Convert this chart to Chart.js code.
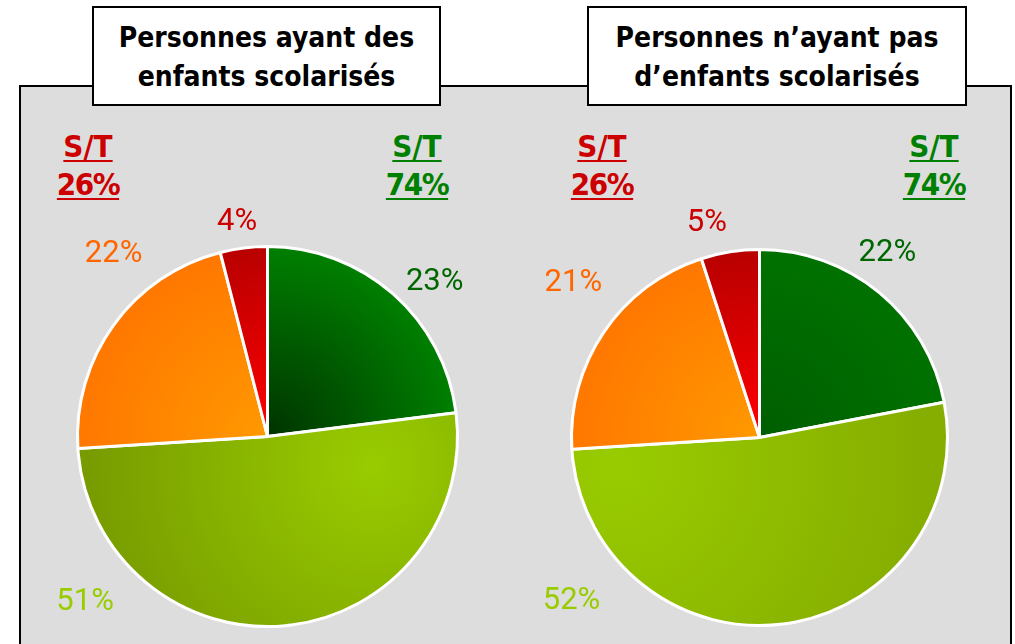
<!DOCTYPE html>
<html><head><meta charset="utf-8">
<script src="https://cdn.jsdelivr.net/npm/chart.js@4/dist/chart.umd.min.js"></script>
<style>
html,body{margin:0;padding:0;background:#fff;width:1015px;height:644px;overflow:hidden;position:relative;font-family:"DejaVu Sans Condensed","DejaVu Sans",sans-serif;}
#panel{position:absolute;left:19px;top:85px;width:989px;height:600px;background:#dddddd;border:2px solid #000;}
.title{position:absolute;top:6px;height:86px;background:#fff;border:2px solid #000;font-weight:bold;font-size:28px;line-height:39px;text-align:center;color:#000;box-sizing:content-box;padding-top:10px}
.st{position:absolute;font-weight:bold;font-size:31px;line-height:38px;text-align:center;text-decoration:underline;text-decoration-thickness:2px;text-underline-offset:3px;width:120px}
.st span{letter-spacing:-1.5px}
canvas{position:absolute}
</style></head>
<body>
<div id="panel"></div>
<div class="title" id="t1" style="left:92px;width:345px"></div>
<div class="title" id="t2" style="left:587px;width:376px"></div>
<div class="st" id="s1" style="left:28px;top:127px;color:#cc0000"></div>
<div class="st" id="s2" style="left:357px;top:127px;color:#008000"></div>
<div class="st" id="s3" style="left:542px;top:127px;color:#cc0000"></div>
<div class="st" id="s4" style="left:874px;top:127px;color:#008000"></div>
<div style="position:absolute;left:30px;top:200px;width:470px;height:444px"><canvas id="c1" width="470" height="444"></canvas></div>
<div style="position:absolute;left:520px;top:200px;width:470px;height:444px"><canvas id="c2" width="470" height="444"></canvas></div>
<script>
// ---- data ----
const titles = ["Personnes ayant des\nenfants scolarisés", "Personnes n\u2019ayant pas\nd\u2019enfants scolarisés"];
const categories = ["Très satisfait", "Assez satisfait", "Peu satisfait", "Pas du tout satisfait"];
const valuesWithChildren = [23, 51, 22, 4];
const valuesWithoutChildren = [22, 52, 21, 5];
const subtotalUnsatisfied = [26, 26];
const subtotalSatisfied = [74, 74];

// ---- styles ----
const labelColors = ["#006600", "#99cc00", "#ff6600", "#cc0000"];
const sliceInner = [["#003300", "#99cc00", "#ff9900", "#ff0000"], ["#005e00", "#99cc00", "#ff9900", "#ff0000"]];
const sliceOuter = [["#008000", "#759800", "#ff7700", "#b80000"], ["#007200", "#86ae00", "#ff7700", "#b80000"]];
const greenFocus = [[0.55, 0.15], [-0.75, 0.15]];
// label placement relative to pie centre, in radius units
const labelOffsets = [
  [[0.88, -0.81], [-0.96, 0.87], [-0.81, -0.96], [-0.16, -1.13]],
  [[0.68, -0.98], [-1.0, 0.87], [-0.99, -0.82], [-0.28, -1.14]]
];

document.getElementById('t1').innerHTML = titles[0].replace('\n', '<br>');
document.getElementById('t2').innerHTML = titles[1].replace('\n', '<br>');
document.getElementById('s1').innerHTML = 'S/T<br><span>' + subtotalUnsatisfied[0] + '%</span>';
document.getElementById('s2').innerHTML = 'S/T<br><span>' + subtotalSatisfied[0] + '%</span>';
document.getElementById('s3').innerHTML = 'S/T<br><span>' + subtotalUnsatisfied[1] + '%</span>';
document.getElementById('s4').innerHTML = 'S/T<br><span>' + subtotalSatisfied[1] + '%</span>';

function makeBg(chartIdx) {
  return function (ctx) {
    const chart = ctx.chart;
    const ca = chart.chartArea;
    const i = ctx.dataIndex;
    if (!ca) return sliceOuter[chartIdx][i];
    const cx = (ca.left + ca.right) / 2, cy = (ca.top + ca.bottom) / 2;
    const r = Math.min(ca.right - ca.left, ca.bottom - ca.top) / 2;
    let g;
    if (i === 1) {
      const f = greenFocus[chartIdx];
      const fx = cx + f[0] * r, fy = cy + f[1] * r;
      g = chart.ctx.createRadialGradient(fx, fy, 0, fx, fy, r * 1.6);
    } else {
      g = chart.ctx.createRadialGradient(cx, cy, 0, cx, cy, r);
    }
    g.addColorStop(0, sliceInner[chartIdx][i]);
    g.addColorStop(1, sliceOuter[chartIdx][i]);
    return g;
  };
}

const labelPlugin = {
  id: 'pctLabels',
  afterDatasetsDraw(chart, args, opts) {
    const meta = chart.getDatasetMeta(0);
    const ds = chart.data.datasets[0];
    const c = chart.ctx;
    c.save();
    c.font = '31px Roboto';
    c.textAlign = 'center';
    c.textBaseline = 'middle';
    meta.data.forEach((arc, i) => {
      const p = arc.getProps(['x', 'y', 'outerRadius'], true);
      const o = opts.offsets[i];
      c.fillStyle = labelColors[i];
      c.fillText(ds.data[i] + '%', p.x + o[0] * p.outerRadius, p.y + o[1] * p.outerRadius);
    });
    c.restore();
  }
};

function makePie(id, values, idx, pad) {
  new Chart(document.getElementById(id), {
    type: 'pie',
    data: { labels: categories, datasets: [{ data: values, backgroundColor: makeBg(idx), borderColor: '#ffffff', borderWidth: 3 }] },
    options: {
      responsive: false, animation: false, events: [],
      layout: { padding: pad },
      plugins: { legend: { display: false }, tooltip: { enabled: false }, pctLabels: { offsets: labelOffsets[idx] } }
    },
    plugins: [labelPlugin]
  });
}
makePie('c1', valuesWithChildren, 0, { left: 46, top: 45, right: 41, bottom: 16 });
makePie('c2', valuesWithoutChildren, 1, { left: 50, top: 48, right: 41, bottom: 17 });
</script>
</body></html>
